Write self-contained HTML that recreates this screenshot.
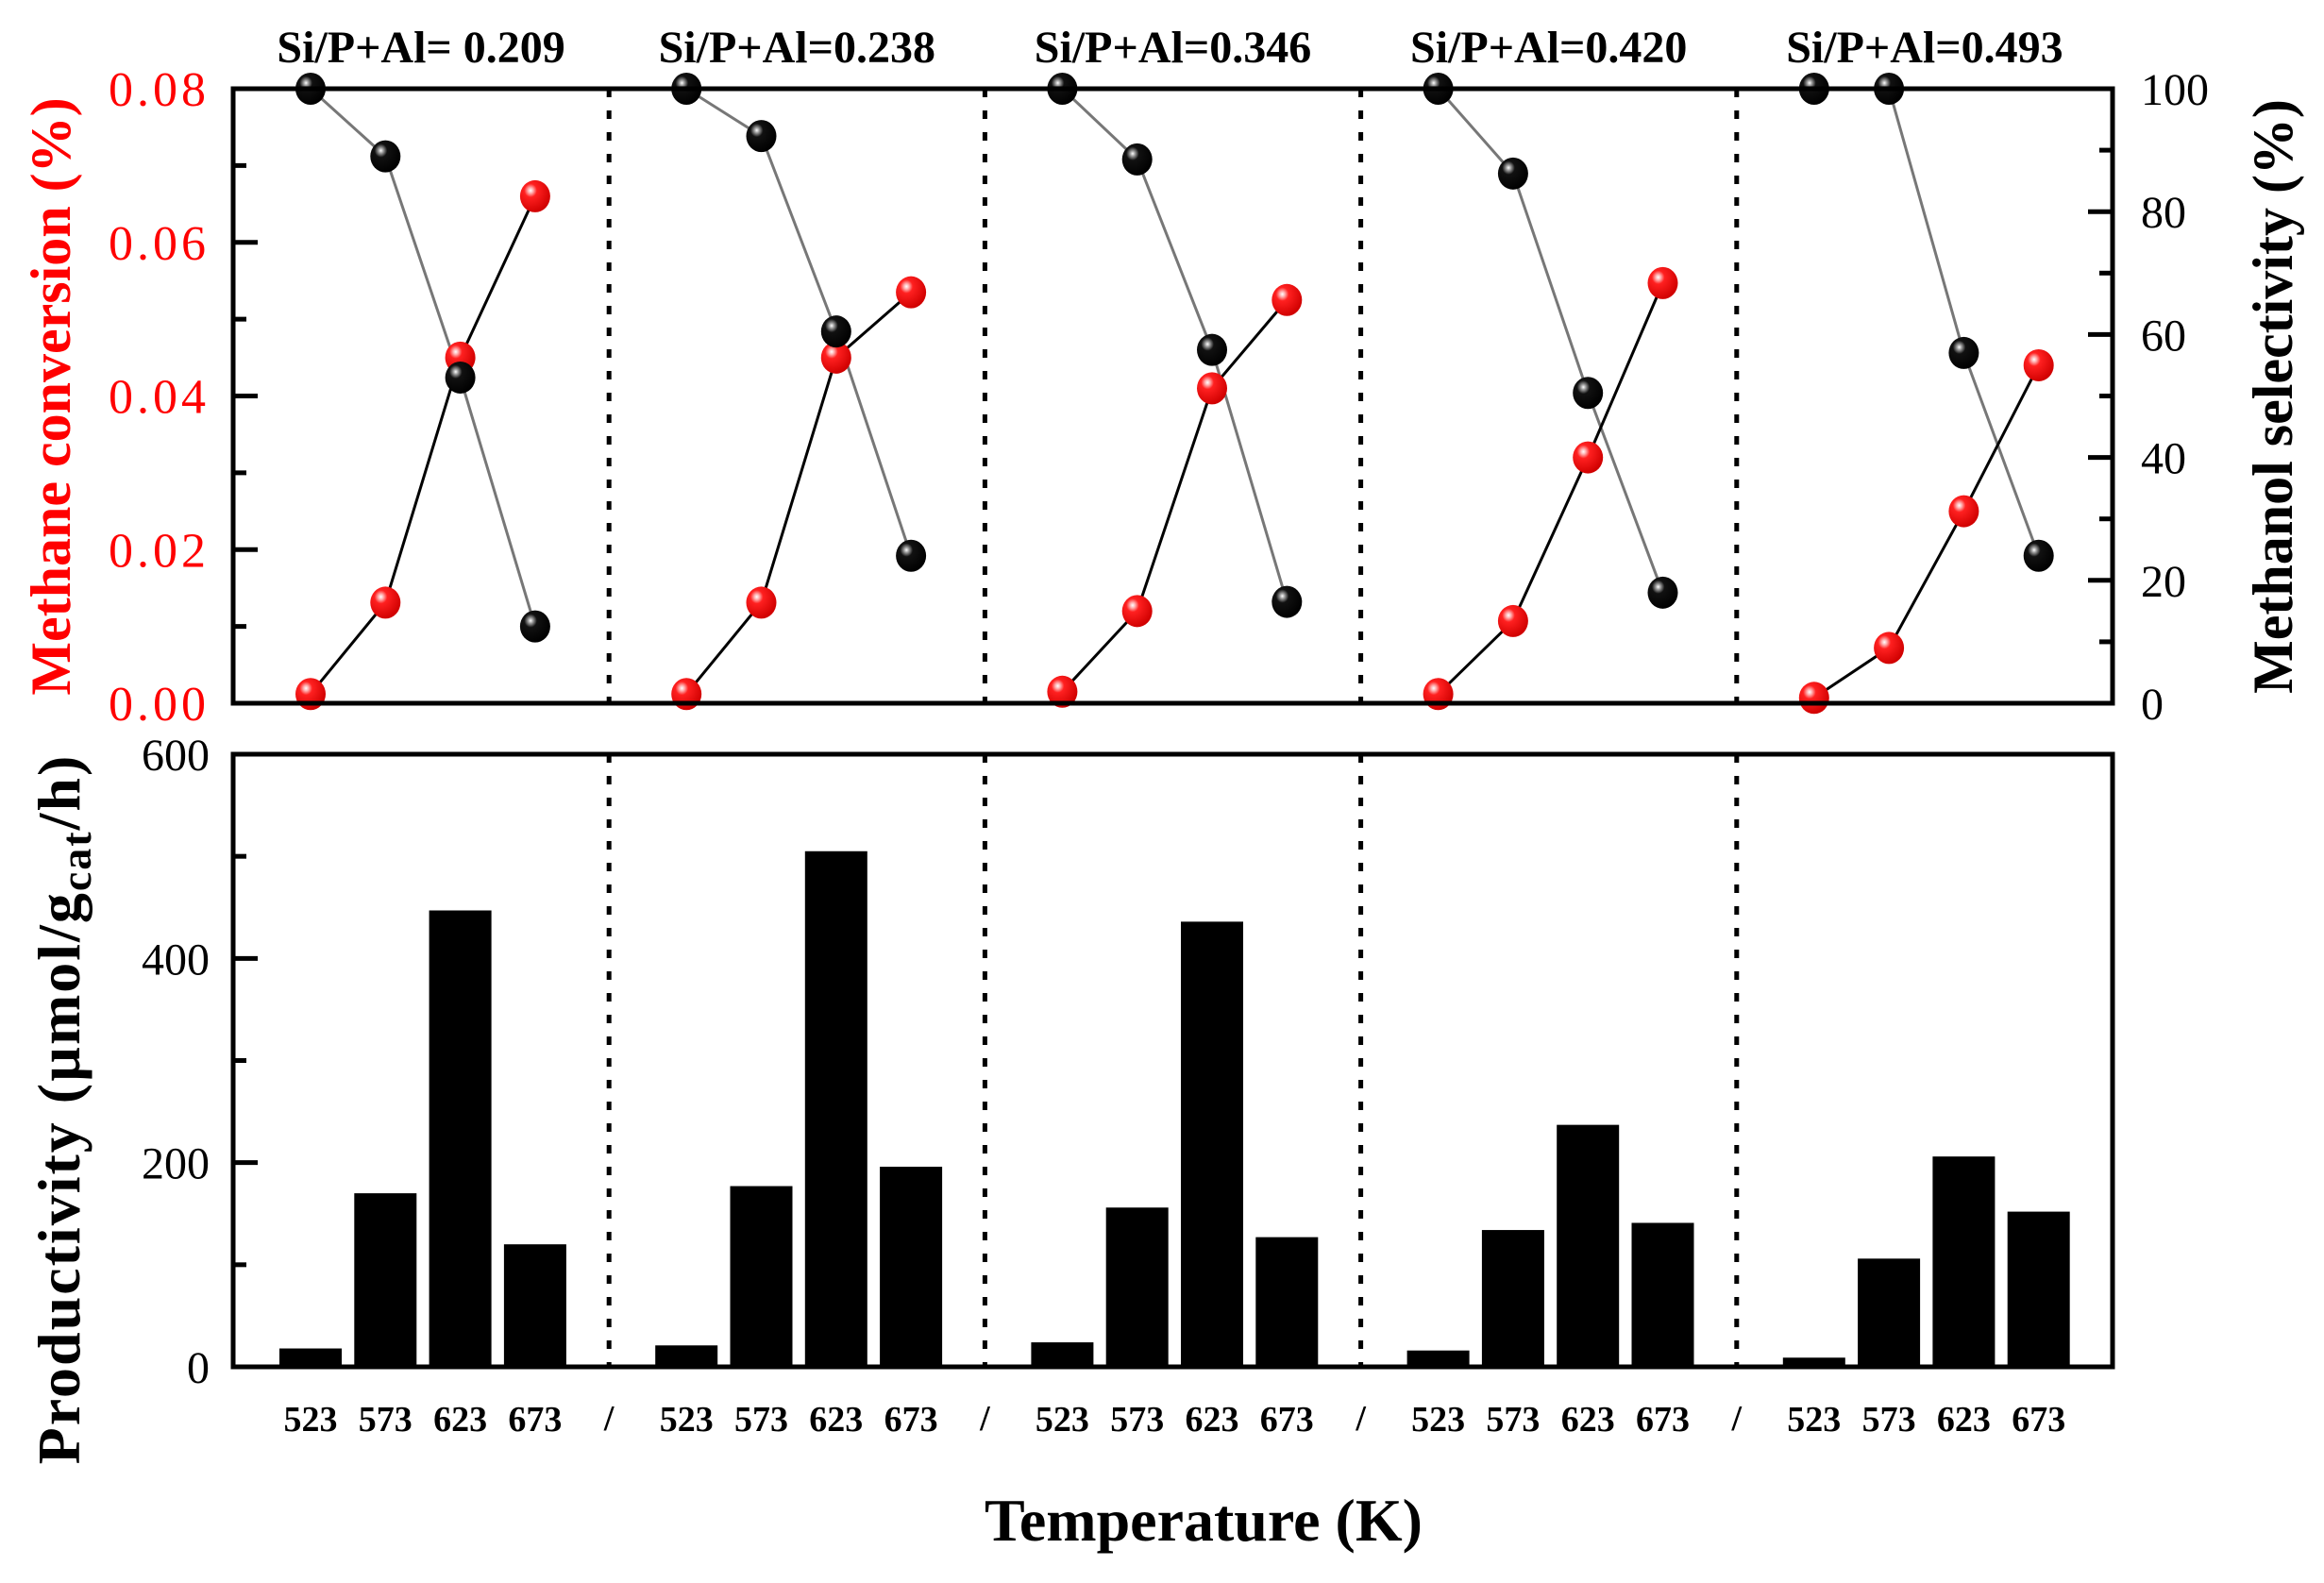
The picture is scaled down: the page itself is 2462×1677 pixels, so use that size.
<!DOCTYPE html>
<html><head><meta charset="utf-8"><style>
html,body{margin:0;padding:0;background:#fff;}
svg{display:block;}
text{font-family:"Liberation Serif",serif;font-weight:bold;}
</style></head><body>
<svg id="s" width="2462" height="1677" xmlns="http://www.w3.org/2000/svg">
<defs>
<radialGradient id="gr" cx="0.35" cy="0.32" r="0.7">
<stop offset="0" stop-color="#fff"/><stop offset="0.12" stop-color="#ffb0b0"/><stop offset="0.3" stop-color="#ff2020"/><stop offset="1" stop-color="#d00000"/></radialGradient>
<radialGradient id="gk" cx="0.35" cy="0.32" r="0.7">
<stop offset="0" stop-color="#fff"/><stop offset="0.12" stop-color="#999"/><stop offset="0.3" stop-color="#111"/><stop offset="1" stop-color="#000"/></radialGradient>
</defs>
</svg>
<script>
var s=document.getElementById('s');var h='';
var L=247,R=2238,T1=94,B1=745,T2=799,B2=1448;
var W=(R-L)/5;
var titles=['Si/P+Al= 0.209','Si/P+Al=0.238','Si/P+Al=0.346','Si/P+Al=0.420','Si/P+Al=0.493'];
var red=[[0.0012,0.0131,0.045,0.066],[0.0012,0.0131,0.045,0.0535],[0.0015,0.012,0.041,0.0525],[0.0012,0.0107,0.032,0.0547],[0.0007,0.0072,0.025,0.044]];
var blk=[[100,89,53,12.5],[100,92.3,60.5,24],[100,88.5,57.5,16.5],[100,86.2,50.5,18],[100,100,57,24]];
var bars=[[18,170,447,120],[21,177,505,196],[24,156,436,127],[16,134,237,141],[9,106,206,152]];
function yc(v){return B1-v/0.08*(B1-T1);}
function ys(v){return B1-v/100*(B1-T1);}
function yp(v){return B2-v/600*(B2-T2);}
function px(i,j){return L+i*W+82+j*79.3;}
for(var i=0;i<5;i++)for(var j=0;j<4;j++){var x=px(i,j),y=yp(bars[i][j]);h+='<rect x="'+(x-33)+'" y="'+y+'" width="66" height="'+(B2-y)+'" fill="#000"/>';}
for(var i=1;i<5;i++){var x=L+i*W;h+='<line x1="'+x+'" y1="'+T1+'" x2="'+x+'" y2="'+B1+'" stroke="#000" stroke-width="5" stroke-dasharray="9,14"/>';
h+='<line x1="'+x+'" y1="'+T2+'" x2="'+x+'" y2="'+B2+'" stroke="#000" stroke-width="5" stroke-dasharray="9,14"/>';
h+='<text x="'+x+'" y="1515" font-size="38" text-anchor="middle">/</text>';}
for(var i=0;i<5;i++){var p1='',p2='';for(var j=0;j<4;j++){p1+=px(i,j)+','+yc(red[i][j])+' ';p2+=px(i,j)+','+ys(blk[i][j])+' ';}
h+='<polyline points="'+p2+'" fill="none" stroke="#777" stroke-width="3"/>';
h+='<polyline points="'+p1+'" fill="none" stroke="#000" stroke-width="3"/>';
h+='<text x="'+(L+i*W+W/2)+'" y="66" font-size="48" text-anchor="middle">'+titles[i]+'</text>';
for(var j=0;j<4;j++){h+='<text x="'+px(i,j)+'" y="1516" font-size="38" text-anchor="middle">'+[523,573,623,673][j]+'</text>';}
}
for(var i=0;i<5;i++)for(var j=0;j<4;j++){
h+='<ellipse cx="'+px(i,j)+'" cy="'+yc(red[i][j])+'" rx="16" ry="17" fill="url(#gr)"/>';
h+='<ellipse cx="'+px(i,j)+'" cy="'+ys(blk[i][j])+'" rx="16" ry="17" fill="url(#gk)"/>';}
for(var k=0;k<=8;k++){var y=B1-k/8*(B1-T1),len=k%2==0?26:14;h+='<line x1="'+L+'" y1="'+y+'" x2="'+(L+len)+'" y2="'+y+'" stroke="#000" stroke-width="5"/>';
if(k%2==0)h+='<text x="222" y="'+(y+18)+'" font-size="52" fill="#f00" text-anchor="end" style="font-weight:normal;letter-spacing:4px">'+(k/100).toFixed(2)+'</text>';}
for(var k=0;k<=10;k++){var y=B1-k/10*(B1-T1),len=k%2==0?26:14;h+='<line x1="'+R+'" y1="'+y+'" x2="'+(R-len)+'" y2="'+y+'" stroke="#000" stroke-width="5"/>';
if(k%2==0)h+='<text x="2268" y="'+(y+17)+'" font-size="48" style="font-weight:normal">'+(k*10)+'</text>';}
for(var k=0;k<=6;k++){var y=B2-k/6*(B2-T2),len=k%2==0?26:14;h+='<line x1="'+L+'" y1="'+y+'" x2="'+(L+len)+'" y2="'+y+'" stroke="#000" stroke-width="5"/>';
if(k%2==0)h+='<text x="222" y="'+(y+17)+'" font-size="48" text-anchor="end" style="font-weight:normal">'+(k*100)+'</text>';}
h+='<rect x="'+L+'" y="'+T1+'" width="'+(R-L)+'" height="'+(B1-T1)+'" fill="none" stroke="#000" stroke-width="5"/>';
h+='<rect x="'+L+'" y="'+T2+'" width="'+(R-L)+'" height="'+(B2-T2)+'" fill="none" stroke="#000" stroke-width="5"/>';
h+='<text transform="translate(74,420) rotate(-90)" font-size="60" fill="#f00" text-anchor="middle">Methane conversion (%)</text>';
h+='<text transform="translate(2428,420) rotate(-90)" font-size="60" text-anchor="middle">Methanol selectivity (%)</text>';
h+='<text transform="translate(84,1175) rotate(-90)" font-size="64" text-anchor="middle" style="letter-spacing:2px">Productivity (µmol/g<tspan font-size="46" dy="12">cat</tspan><tspan dy="-12">/h)</tspan></text>';
h+='<text x="1275" y="1632" font-size="64" text-anchor="middle">Temperature (K)</text>';
s.insertAdjacentHTML('beforeend',h);
</script>
</body></html>
